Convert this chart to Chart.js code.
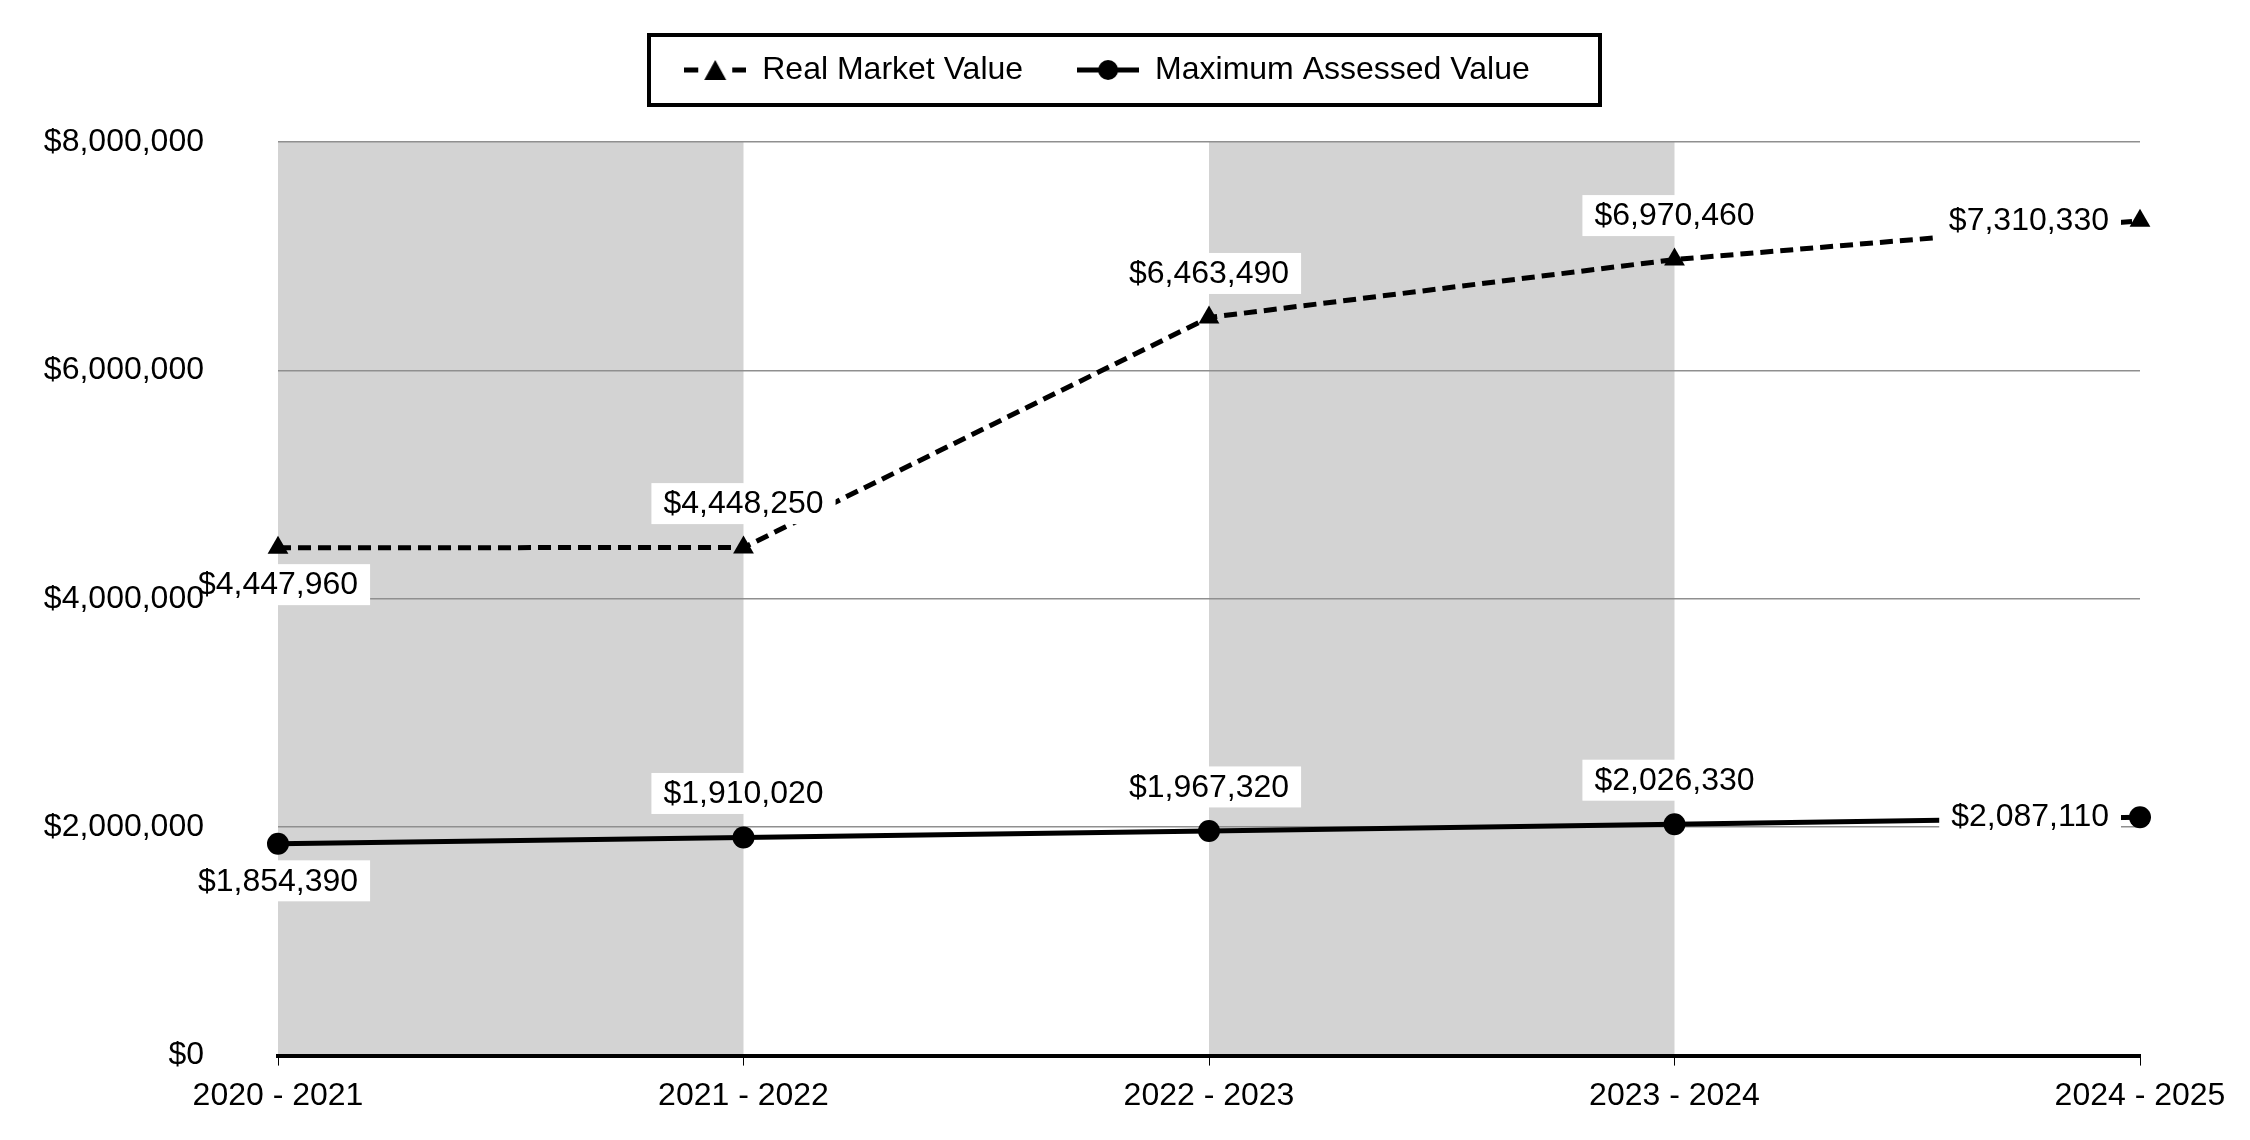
<!DOCTYPE html>
<html>
<head>
<meta charset="utf-8">
<script src="https://cdn.jsdelivr.net/npm/chart.js@4.4.0/dist/chart.umd.min.js"></script>
<style>
html, body { margin: 0; padding: 0; background: #fff; }
#wrap { width: 2250px; height: 1140px; }
</style>
</head>
<body>
<div id="wrap"><canvas id="chart"></canvas></div>
<script>
const categories = ["2020 - 2021", "2021 - 2022", "2022 - 2023", "2023 - 2024", "2024 - 2025"];
const realMarketValues = [4447960, 4448250, 6463490, 6970460, 7310330];
const maxAssessedValues = [1854390, 1910020, 1967320, 2026330, 2087110];
const seriesNames = ["Real Market Value", "Maximum Assessed Value"];
const shadedBands = [[0, 1], [2, 3]];
const yMin = 0, yMax = 8000000, yStep = 2000000;

const FONT = '"Liberation Sans", Arial, sans-serif';
Chart.defaults.font.family = FONT;
Chart.defaults.font.size = 32;
Chart.defaults.color = "#000";

function money(v) {
    return "$" + Number(v).toLocaleString("en-US");
}

// little line+marker pictures for the legend
function legendIcon(dashed, marker) {
    const c = document.createElement("canvas");
    c.width = 62;
    c.height = 26;
    const g = c.getContext("2d");
    g.strokeStyle = "#000";
    g.fillStyle = "#000";
    g.lineWidth = 5;
    g.beginPath();
    if (dashed) {
        g.moveTo(0, 13); g.lineTo(14, 13);
        g.moveTo(48, 13); g.lineTo(62, 13);
    } else {
        g.moveTo(0, 13); g.lineTo(62, 13);
    }
    g.stroke();
    g.beginPath();
    if (marker === "triangle") {
        g.moveTo(31, 3); g.lineTo(42, 23); g.lineTo(20, 23); g.closePath();
    } else {
        g.arc(31, 13, 10, 0, Math.PI * 2);
    }
    g.fill();
    return c;
}
const legendIcons = [legendIcon(true, "triangle"), legendIcon(false, "circle")];

const bandsPlugin = {
    id: "bands",
    beforeDraw(chart) {
        const { ctx, chartArea, scales } = chart;
        ctx.save();
        ctx.fillStyle = "#d3d3d3";
        shadedBands.forEach(([a, b]) => {
            const x1 = scales.x.getPixelForValue(a);
            const x2 = scales.x.getPixelForValue(b);
            ctx.fillRect(x1, chartArea.top, x2 - x1, chartArea.bottom - chartArea.top);
        });
        ctx.restore();
    }
};

// extra room under the legend, and nudge it a bit right
const legendSpace = {
    id: "legendSpace",
    beforeInit(chart) {
        const fit = chart.legend.fit;
        chart.legend.fit = function () {
            fit.call(this);
            this.height += 46;
        };
    },
    afterLayout(chart) {
        chart.legend.left += 37;
        chart.legend.right += 37;
    }
};

const legendFrame = {
    id: "legendFrame",
    afterDraw(chart) {
        const hb = chart.legend.legendHitBoxes;
        if (!hb || !hb.length) return;
        const last = hb[hb.length - 1];
        const mid = (hb[0].left + last.left + last.width) / 2;
        const left = mid - 458;
        const right = mid + 493;
        const cy = hb[0].top + hb[0].height / 2;
        const ctx = chart.ctx;
        ctx.save();
        ctx.strokeStyle = "#000";
        ctx.lineWidth = 4;
        ctx.strokeRect(left, cy - 35, right - left, 70);
        ctx.restore();
    }
};

const valueLabels = {
    id: "valueLabels",
    afterDatasetsDraw(chart) {
        const ctx = chart.ctx;
        ctx.save();
        ctx.font = "32px " + FONT;
        ctx.textAlign = "center";
        ctx.textBaseline = "middle";
        chart.data.datasets.forEach((ds, di) => {
            const meta = chart.getDatasetMeta(di);
            const lastIdx = meta.data.length - 1;
            meta.data.forEach((pt, i) => {
                const text = money(ds.data[i]);
                const w = ctx.measureText(text).width + 24;
                const h = 41;
                let cx = pt.x, cy = pt.y - 44;
                if (i === 0) {
                    cy = pt.y + 37;
                } else if (i === lastIdx) {
                    cx = pt.x - 19 - w / 2;
                    cy = pt.y - 1;
                }
                ctx.fillStyle = "#fff";
                ctx.fillRect(cx - w / 2, cy - h / 2, w, h);
                ctx.fillStyle = "#000";
                ctx.fillText(text, cx, cy + 1);
            });
        });
        ctx.restore();
    }
};

new Chart(document.getElementById("chart"), {
    type: "line",
    data: {
        labels: categories,
        datasets: [{
            label: seriesNames[0],
            data: realMarketValues,
            borderColor: "#000",
            borderWidth: 5,
            borderDash: [13, 7],
            pointStyle: "triangle",
            pointRadius: 12,
            pointBackgroundColor: "#000",
            pointBorderWidth: 0,
            tension: 0,
            clip: false
        }, {
            label: seriesNames[1],
            data: maxAssessedValues,
            borderColor: "#000",
            borderWidth: 5,
            pointStyle: "circle",
            pointRadius: 11,
            pointBackgroundColor: "#000",
            pointBorderWidth: 0,
            tension: 0,
            clip: false
        }]
    },
    options: {
        responsive: true,
        maintainAspectRatio: false,
        devicePixelRatio: 1,
        animation: false,
        events: [],
        layout: { padding: { left: 0, right: 110, top: 0, bottom: 14 } },
        plugins: {
            tooltip: { enabled: false },
            legend: {
                position: "top",
                labels: {
                    usePointStyle: true,
                    pointStyleWidth: 62,
                    padding: 54,
                    color: "#000",
                    font: { size: 32 },
                    generateLabels(chart) {
                        const items = Chart.defaults.plugins.legend.labels.generateLabels(chart);
                        items.forEach((it, i) => { it.pointStyle = legendIcons[i]; });
                        return items;
                    }
                }
            }
        },
        scales: {
            x: {
                offset: false,
                grid: { drawOnChartArea: false, drawTicks: true, tickLength: 10, color: "#000", lineWidth: 1 },
                border: { display: true, color: "#000", width: 4, z: 1 },
                ticks: { padding: 11, maxRotation: 0, autoSkip: false, color: "#000", font: { size: 32 } }
            },
            y: {
                min: yMin,
                max: yMax,
                ticks: { stepSize: yStep, padding: 74, color: "#000", font: { size: 32 }, z: 1, callback: (v) => money(v) },
                grid: {
                    drawTicks: false,
                    lineWidth: 1.5,
                    color: (c) => (c.tick && c.tick.value === 0 ? "rgba(0,0,0,0)" : "#8f8f8f")
                },
                border: { display: false },
                afterFit(scale) {
                    scale.width = 278;
                    // tick padding is horizontal here, don't let it reserve space above/below
                    scale.paddingTop = 20;
                    scale.paddingBottom = 20;
                }
            }
        }
    },
    plugins: [bandsPlugin, legendSpace, legendFrame, valueLabels]
});
</script>
</body>
</html>
